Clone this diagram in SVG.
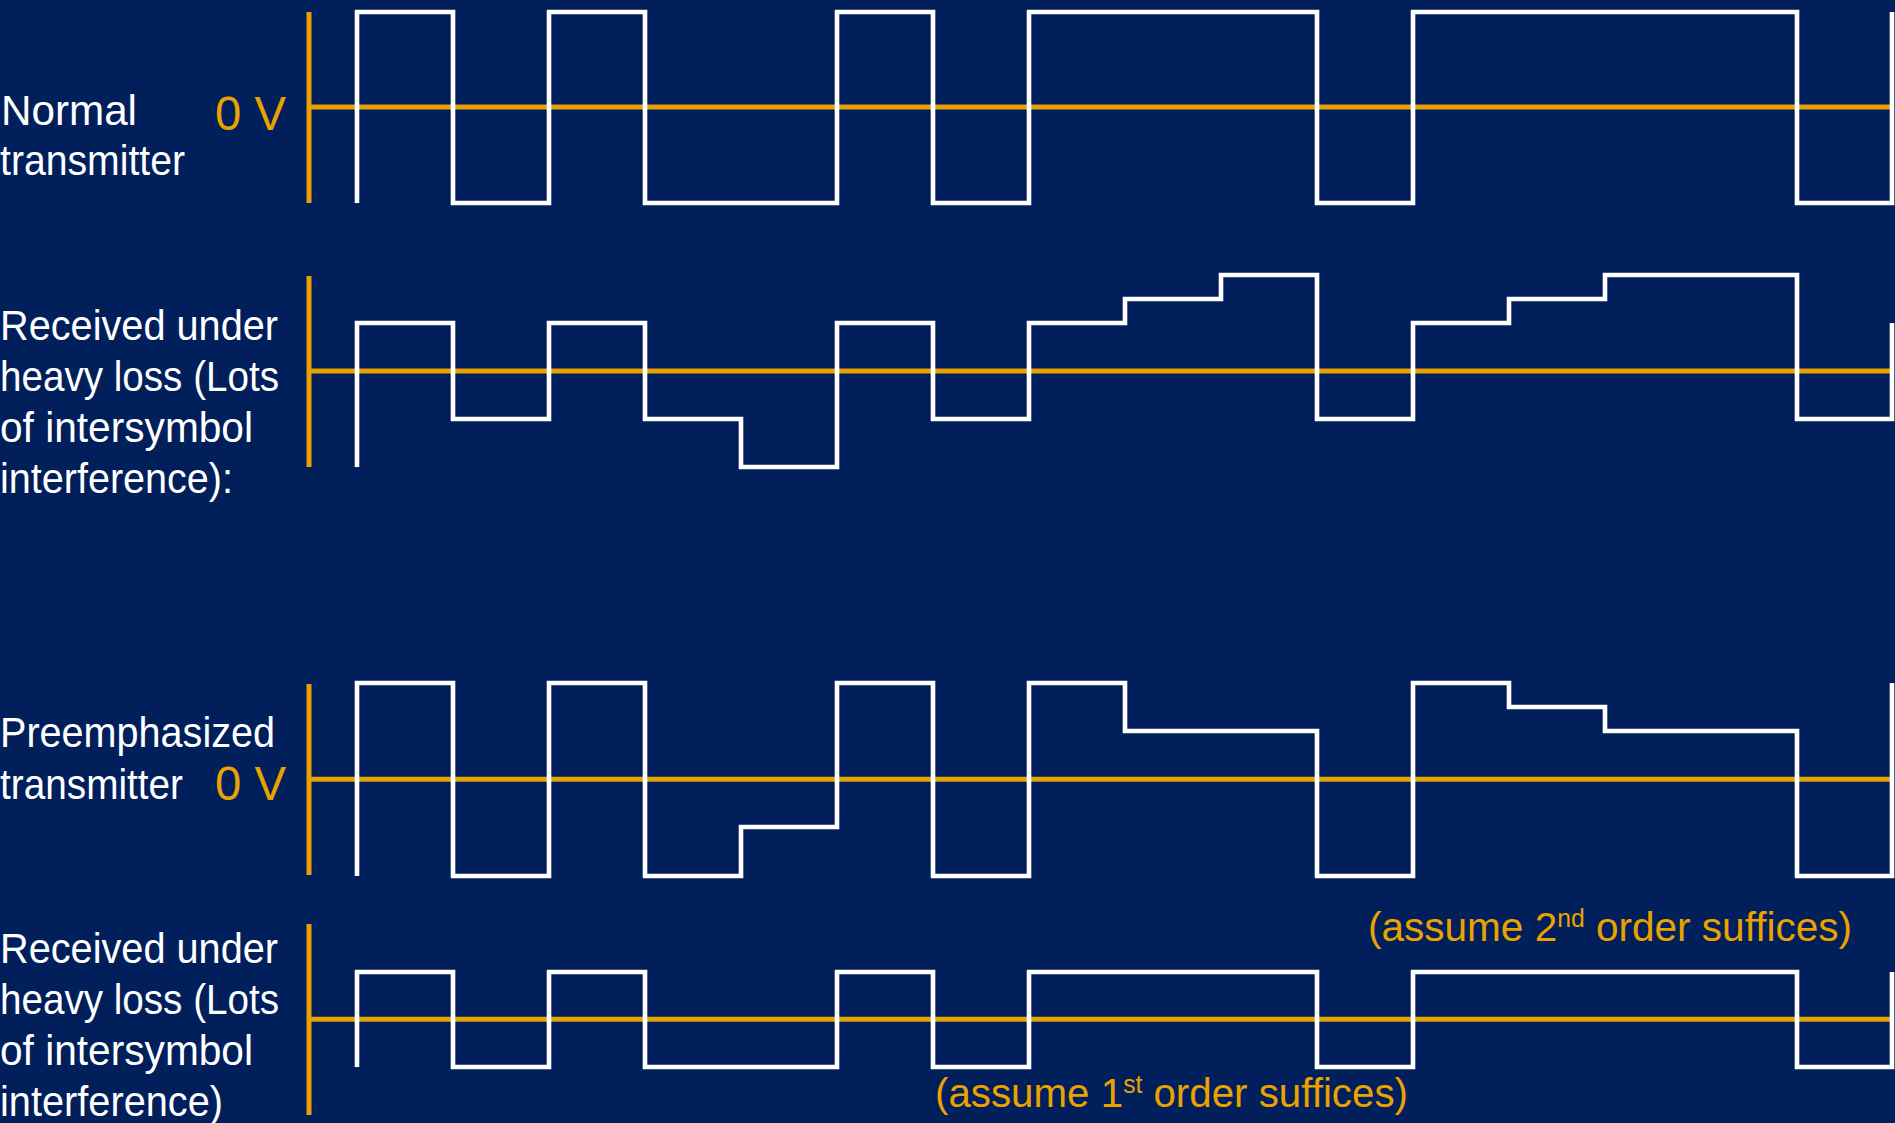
<svg xmlns="http://www.w3.org/2000/svg" width="1895" height="1123" viewBox="0 0 1895 1123">
<style>
.bg{fill:#001F5B}
.axis{stroke:#E9A200;stroke-width:5;fill:none}
.wave{stroke:#FFFFFF;stroke-width:4.6;fill:none;stroke-linejoin:miter;stroke-linecap:butt}
.lbl{font-family:"Liberation Sans",Arial,sans-serif;font-size:42px;fill:#FFFFFF}
.volt{font-family:"Liberation Sans",Arial,sans-serif;font-size:48px;fill:#E9A200}
.note{font-family:"Liberation Sans",Arial,sans-serif;font-size:41px;fill:#E9A200}
</style>
<rect class="bg" x="0" y="0" width="1895" height="1123"/>

<g id="labels">
  <g id="label-normal">
    <text class="lbl" x="1" y="125" textLength="136" lengthAdjust="spacingAndGlyphs">Normal</text>
    <text class="lbl" x="0" y="175" textLength="185" lengthAdjust="spacingAndGlyphs">transmitter</text>
    <text class="volt" x="215" y="130" textLength="71" lengthAdjust="spacingAndGlyphs">0 V</text>
  </g>
  <g id="label-received1">
    <text class="lbl" x="0" y="339.5" textLength="278" lengthAdjust="spacingAndGlyphs">Received under</text>
    <text class="lbl" x="0" y="390.7" textLength="279" lengthAdjust="spacingAndGlyphs">heavy loss (Lots</text>
    <text class="lbl" x="0" y="441.7" textLength="253" lengthAdjust="spacingAndGlyphs">of intersymbol</text>
    <text class="lbl" x="0" y="492.7" textLength="233" lengthAdjust="spacingAndGlyphs">interference):</text>
  </g>
  <g id="label-preemph">
    <text class="lbl" x="0" y="747" textLength="275" lengthAdjust="spacingAndGlyphs">Preemphasized</text>
    <text class="lbl" x="0" y="798.5" textLength="183" lengthAdjust="spacingAndGlyphs">transmitter</text>
    <text class="volt" x="215" y="800" textLength="71" lengthAdjust="spacingAndGlyphs">0 V</text>
  </g>
  <g id="label-received2">
    <text class="lbl" x="0" y="963.3" textLength="278" lengthAdjust="spacingAndGlyphs">Received under</text>
    <text class="lbl" x="0" y="1014.3" textLength="279" lengthAdjust="spacingAndGlyphs">heavy loss (Lots</text>
    <text class="lbl" x="0" y="1065" textLength="253" lengthAdjust="spacingAndGlyphs">of intersymbol</text>
    <text class="lbl" x="0" y="1116" textLength="223" lengthAdjust="spacingAndGlyphs">interference)</text>
  </g>
  <g id="notes">
    <text class="note" x="935" y="1107" textLength="473" lengthAdjust="spacingAndGlyphs">(assume 1<tspan font-size="25" dy="-14">st</tspan><tspan dy="14"> order suffices)</tspan></text>
    <text class="note" x="1368" y="941" textLength="484" lengthAdjust="spacingAndGlyphs">(assume 2<tspan font-size="25" dy="-14">nd</tspan><tspan dy="14"> order suffices)</tspan></text>
  </g>
</g>

<g id="axes">
  <g id="axis-row1"><line class="axis" x1="309" y1="12" x2="309" y2="203"/><line class="axis" x1="309" y1="107" x2="1893" y2="107"/></g>
  <g id="axis-row2"><line class="axis" x1="309" y1="276" x2="309" y2="467"/><line class="axis" x1="309" y1="371" x2="1893" y2="371"/></g>
  <g id="axis-row3"><line class="axis" x1="309" y1="684" x2="309" y2="875"/><line class="axis" x1="309" y1="779.3" x2="1893" y2="779.3"/></g>
  <g id="axis-row4"><line class="axis" x1="309" y1="924" x2="309" y2="1115"/><line class="axis" x1="309" y1="1019.3" x2="1893" y2="1019.3"/></g>
</g>

<g id="waveforms">
  <polyline id="wave-normal" class="wave" points="357,203 357,12 453,12 453,203 549,203 549,12 645,12 645,203 837,203 837,12 933,12 933,203 1029,203 1029,12 1317,12 1317,203 1413,203 1413,12 1797,12 1797,203 1892,203 1892,12"/>
  <polyline id="wave-received1" class="wave" points="357,467 357,323 453,323 453,419 549,419 549,323 645,323 645,419 741,419 741,467 837,467 837,323 933,323 933,419 1029,419 1029,323 1125,323 1125,299 1221,299 1221,275 1317,275 1317,419 1413,419 1413,323 1509,323 1509,299 1605,299 1605,275 1797,275 1797,419 1892,419 1892,323"/>
  <polyline id="wave-preemph" class="wave" points="357,876 357,683 453,683 453,876 549,876 549,683 645,683 645,876 741,876 741,827 837,827 837,683 933,683 933,876 1029,876 1029,683 1125,683 1125,731 1317,731 1317,876 1413,876 1413,683 1509,683 1509,707 1605,707 1605,731 1797,731 1797,876 1892,876 1892,683"/>
  <polyline id="wave-received2" class="wave" points="357,1067 357,972 453,972 453,1067 549,1067 549,972 645,972 645,1067 837,1067 837,972 933,972 933,1067 1029,1067 1029,972 1317,972 1317,1067 1413,1067 1413,972 1797,972 1797,1067 1892,1067 1892,972"/>
</g>
</svg>
